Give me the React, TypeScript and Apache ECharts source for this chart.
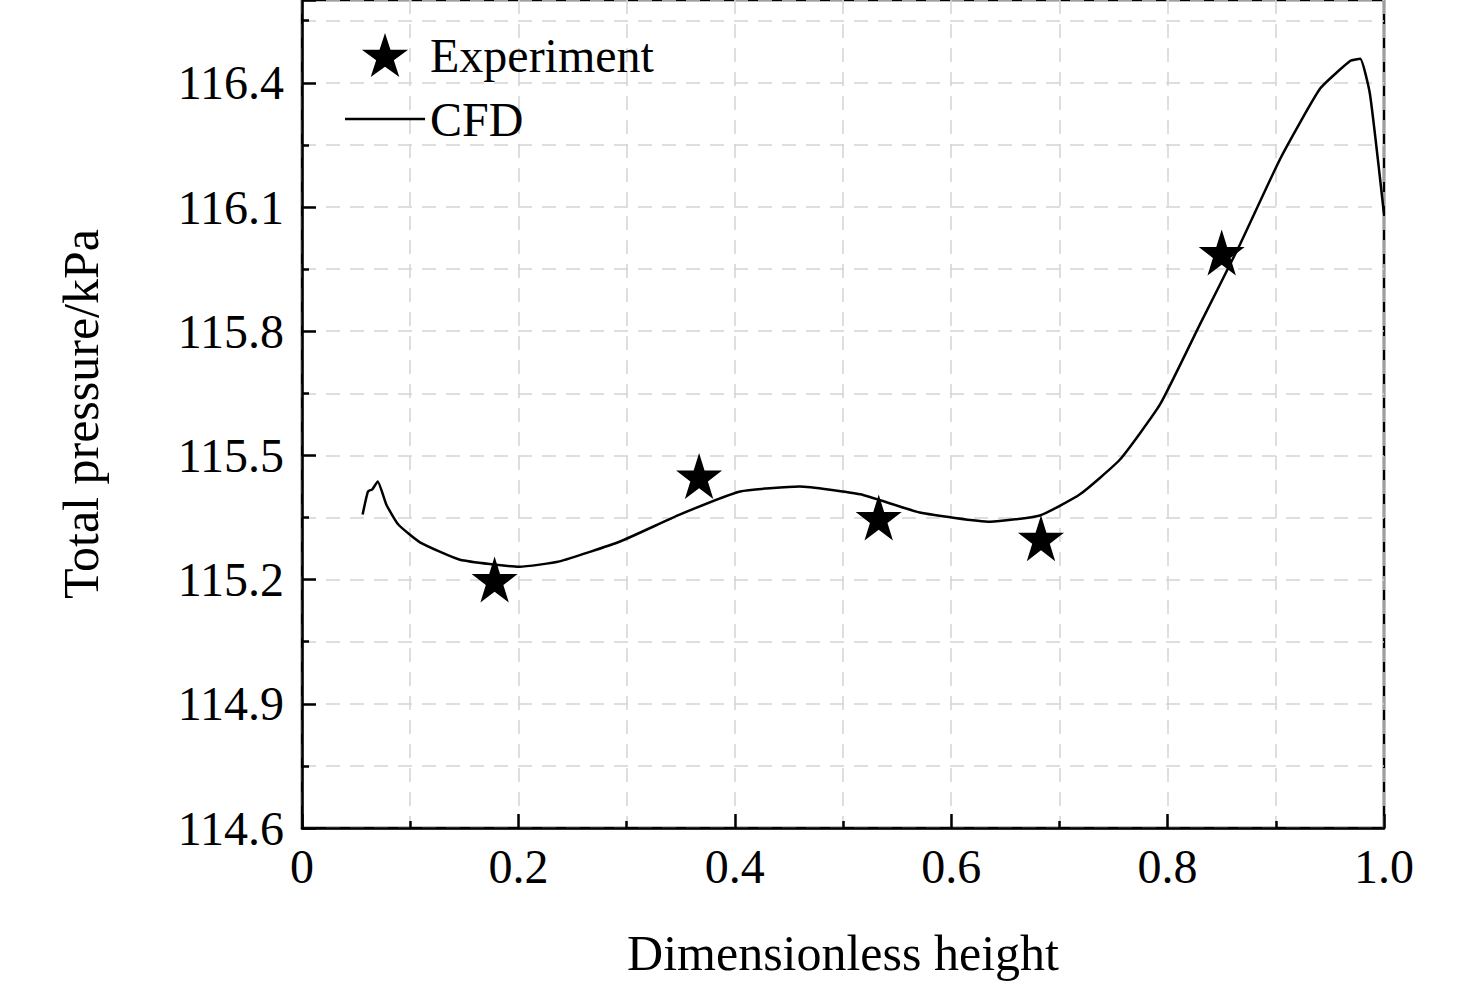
import { useEffect, useRef } from 'react';
import * as echarts from 'echarts';

const expX = [0.178, 0.367, 0.533, 0.683, 0.85];
const expY = [115.2, 115.45, 115.35, 115.3, 115.99];

const cfdX = [0.056, 0.061, 0.065, 0.07, 0.078, 0.089, 0.109, 0.146, 0.201, 0.238, 0.294, 0.349, 0.405, 0.46, 0.516, 0.571, 0.636, 0.682, 0.719, 0.756, 0.793, 0.83, 0.867, 0.904, 0.941, 0.969, 0.978, 0.987, 1.0];
const cfdY = [115.357, 115.413, 115.418, 115.437, 115.381, 115.333, 115.29, 115.248, 115.231, 115.244, 115.292, 115.357, 115.413, 115.425, 115.406, 115.362, 115.34, 115.355, 115.406, 115.49, 115.623, 115.817, 116.01, 116.216, 116.386, 116.453, 116.458, 116.373, 116.083];

const FONT = '"Liberation Serif", "Times New Roman", serif';
const STAR = 'path://M50,0 L61.8,36.2 L100,36.2 L69.1,58.8 L80.9,95.1 L50,72.7 L19.1,95.1 L30.9,58.8 L0,36.2 L38.2,36.2 Z';
const dashed = { show: true, lineStyle: { color: '#d4d4d4', type: [14, 10] as any, width: 1.5 } };

export default function App() {
  const ref = useRef<HTMLDivElement>(null);

  useEffect(() => {
    if (!ref.current) return;
    const chart = echarts.init(ref.current, null, { renderer: 'svg' });
    chart.setOption({
      animation: false,
      backgroundColor: '#fff',
      grid: { left: 302, right: 92, top: 0, bottom: 161, show: true, borderColor: '#000', borderWidth: 2.5, backgroundColor: 'transparent' },
      legend: {
        left: 340, top: 26, orient: 'vertical', itemGap: 16, itemWidth: 80, itemHeight: 44,
        textStyle: { fontFamily: FONT, fontSize: 48, color: '#000' },
        data: [
          { name: 'Experiment', icon: STAR, itemStyle: { color: '#000', opacity: 1 } },
          { name: 'CFD', icon: 'path://M0,0 L100,0 L100,3 L0,3 Z', itemStyle: { color: '#000' } },
        ],
      },
      xAxis: {
        type: 'value', min: 0, max: 1, interval: 0.2,
        name: 'Dimensionless height', nameLocation: 'middle', nameGap: 100,
        nameTextStyle: { fontFamily: FONT, fontSize: 50, color: '#000' },
        axisLine: { lineStyle: { color: '#000', width: 2.5 } },
        axisTick: { inside: true, length: 14, lineStyle: { color: '#000', width: 2.5 } },
        minorTick: { show: true, splitNumber: 2, length: 7, lineStyle: { color: '#000', width: 2.5 } },
        axisLabel: { fontFamily: FONT, fontSize: 48, color: '#000', margin: 14, formatter: (v: number) => (v === 0 ? '0' : v.toFixed(1)) },
        splitLine: dashed,
        minorSplitLine: dashed,
      },
      yAxis: {
        type: 'value', min: 114.6, max: 116.6, interval: 0.3,
        name: 'Total pressure/kPa', nameLocation: 'middle', nameGap: 196,
        nameTextStyle: { fontFamily: FONT, fontSize: 50, color: '#000' },
        axisLine: { lineStyle: { color: '#000', width: 2.5 } },
        axisTick: { inside: true, length: 14, lineStyle: { color: '#000', width: 2.5 } },
        minorTick: { show: true, splitNumber: 2, length: 7, lineStyle: { color: '#000', width: 2.5 } },
        axisLabel: { fontFamily: FONT, fontSize: 48, color: '#000', margin: 18, formatter: (v: number) => (v > 116.5 ? '' : v.toFixed(1)) },
        splitLine: dashed,
        minorSplitLine: dashed,
      },
      series: [
        {
          name: 'CFD', type: 'line', showSymbol: false, smooth: 0.15,
          lineStyle: { color: '#000', width: 2.5 }, itemStyle: { color: '#000' },
          data: cfdX.map((x, i) => [x, cfdY[i]]),
        },
        {
          name: 'Experiment', type: 'scatter', symbol: STAR, symbolSize: 46,
          itemStyle: { color: '#000', opacity: 1 }, z: 5,
          data: expX.map((x, i) => [x, expY[i]]),
        },
      ],
    });
    return () => chart.dispose();
  }, []);

  return <div ref={ref} style={{ position: 'absolute', left: 0, top: 0, width: 1476, height: 989 }} />;
}
